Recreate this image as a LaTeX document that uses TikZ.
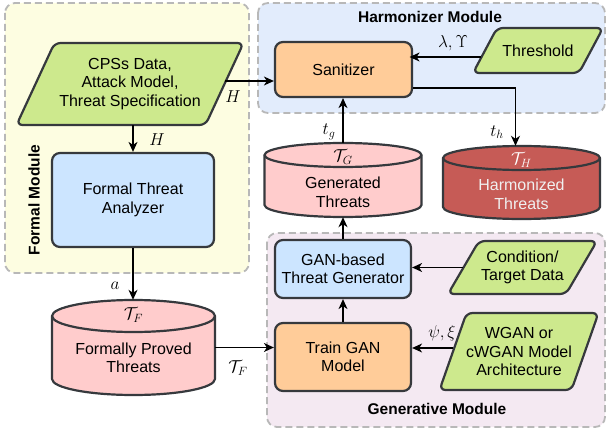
\documentclass[tikz,border=0pt]{standalone}
\usepackage{fontspec}
\setmainfont{Liberation Sans}
\usetikzlibrary{arrows.meta}
\definecolor{ncol}{HTML}{36393D}
\definecolor{modgray}{HTML}{B8B8B8}
\definecolor{cyell}{HTML}{FDFDE1}
\definecolor{cblue}{HTML}{E2ECFC}
\definecolor{cpink}{HTML}{F4E9F2}
\definecolor{cgreen}{HTML}{CDE98D}
\definecolor{nblue}{HTML}{CCE5FF}
\definecolor{norange}{HTML}{FFCC99}
\definecolor{npink}{HTML}{FFCCCC}
\definecolor{ndred}{HTML}{C65B56}
\newcommand{\nfont}{\fontsize{16}{18.5}\selectfont}
\newcommand{\tfont}{\fontsize{15.5}{18}\selectfont\bfseries}
\newcommand{\lfont}{\fontsize{18}{20}\selectfont}
% parallelogram: name, cx, cy, w, h, slant, text
\newcommand{\mypara}[7]{%
  \draw[pshape] (#2-#4/2+#6/2,-#3+#5/2) -- (#2+#4/2+#6/2,-#3+#5/2) -- (#2+#4/2-#6/2,-#3-#5/2) -- (#2-#4/2-#6/2,-#3-#5/2) -- cycle;
  \node[ptext, minimum width=#4pt, minimum height=#5pt] (#1) at (#2,-#3) {#7};
}
% cylinder: name, cx, top, bottom, half width, ry, fill
\newcommand{\mydrum}[7]{%
  \draw[dshape, fill=#7] (#2-#5,-#3-#6) -- (#2-#5,-#4+#6) arc[start angle=180,end angle=360,x radius=#5pt,y radius=#6pt] -- (#2+#5,-#3-#6) arc[start angle=0,end angle=180,x radius=#5pt,y radius=#6pt] -- cycle;
  \draw[dshape] (#2-#5,-#3-#6) arc[start angle=180,end angle=360,x radius=#5pt,y radius=#6pt];
  \path (#2,{-(#3+#4)/2}) node[inner sep=0pt, minimum width={2*#5}, minimum height={#4-#3}] (#1) {};
}
\tikzset{
  box/.style={draw=ncol, line width=2.2pt, rounded corners=8pt, align=center, font=\nfont, inner sep=2pt},
  pshape/.style={draw=ncol, line width=2.2pt, fill=cgreen, rounded corners=6pt},
  ptext/.style={align=center, font=\nfont, inner sep=0pt},
  dshape/.style={draw=ncol, line width=2.2pt},
  arr/.style={-{Stealth[length=10pt,width=9pt,inset=3pt]}, line width=1.3pt, black},
  module/.style={draw=modgray, dash pattern=on 7pt off 4pt, line width=1.8pt, rounded corners=10pt},
  lbl/.style={font=\lfont, inner sep=0pt},
  mtitle/.style={font=\tfont, inner sep=0pt}
}
\begin{document}
\begin{tikzpicture}[x=1pt,y=1pt]
\useasboundingbox (0,0) rectangle (607,-430);
% modules
\draw[module, fill=cyell] (5,-3) rectangle (249,-273);
\draw[module, fill=cblue] (258,-3) rectangle (605,-113);
\draw[module, fill=cpink] (267,-233) rectangle (605,-427);
\node[mtitle] (htitle) at (430,-17) {Harmonizer Module};
\node[mtitle] (gtitle) at (437,-409) {Generative Module};
\node[mtitle, rotate=90] (ftitle) at (34,-200) {Formal Module};
% parallelograms
\mypara{cps}{130}{84}{189}{82}{38}{CPSs Data,\\Attack Model,\\Threat Specification}
\mypara{thr}{538}{50.5}{106}{45}{24}{Threshold}
\mypara{cond}{522.5}{267.5}{118}{53}{31}{Condition/\\Target Data}
\mypara{wgan}{519}{351.5}{132}{77}{27}{WGAN or\\cWGAN Model\\Architecture}
% boxes
\node[box, fill=nblue, minimum width=162pt, minimum height=94pt] (fta) at (133,-200) {Formal Threat\\Analyzer};
\node[box, fill=norange, minimum width=137pt, minimum height=55pt] (san) at (343.5,-69.5) {Sanitizer};
\node[box, fill=nblue, minimum width=136pt, minimum height=58pt] (gen) at (343,-269) {GAN-based\\Threat Generator};
\node[box, fill=norange, minimum width=136pt, minimum height=68pt] (train) at (343,-357) {Train GAN\\Model};
% cylinders
\mydrum{gthr}{343}{143}{217}{78.5}{12}{npink}
\node[ptext, font=\lfont] (gthrT) at (343,-157) {$\mathcal{T}_G$};
\node[ptext] (gthrL) at (343,-192.5) {Generated\\Threats};
\mydrum{hthr}{521.5}{146}{219}{78.5}{12}{ndred}
\node[ptext, font=\lfont, text=white] (hthrT) at (521.5,-160) {$\mathcal{T}_H$};
\node[ptext, text=white!94!black] (hthrL) at (521.5,-194.5) {Harmonized\\Threats};
\mydrum{fp}{133.5}{300}{395}{81.5}{16}{npink}
\node[ptext, font=\lfont] (fpT) at (133.5,-315) {$\mathcal{T}_F$};
\node[ptext] (fpL) at (133.5,-358) {Formally Proved\\Threats};
% connectors
\draw[arr] (fta.north |- cps.south) -- (fta.north);
\node[lbl] (lH1) at (157,-140) {$H$};
\draw[arr] ([yshift=3pt]cps.east) -- ([yshift=3pt]cps.east -| san.west);
\node[lbl] (lH2) at (233,-97) {$H$};
\draw[arr] ([xshift=-3.5pt,yshift=-6.5pt]thr.west) -- ([xshift=-3.5pt,yshift=-6.5pt]thr.west -| san.east);
\node[lbl] (llam) at (453,-43) {$\lambda,\Upsilon$};
\draw[arr] ([yshift=-18.5pt]san.east) -| ([xshift=-6pt]hthr.north);
\node[lbl] (lth) at (497,-132) {$t_h$};
\draw[arr] (gthr.north) -- (gthr.north |- san.south);
\node[lbl] (ltg) at (329,-132) {$t_g$};
\draw[arr] (gen.north) -- (gen.north |- gthr.south);
\draw[arr] (train.north) -- (gen.south);
\draw[arr] (cond.west) -- (cond.west -| gen.east);
\draw[arr] ([yshift=3.5pt]wgan.west) -- ([yshift=3.5pt]wgan.west -| train.east);
\node[lbl] (lpsi) at (442,-333) {$\psi,\xi$};
\draw[arr] (fta.south) -- (fta.south |- fp.north);
\node[lbl] (la) at (115,-286) {$a$};
\draw[arr] (fp.east) -- (fp.east -| train.west);
\node[lbl] (lTF) at (238,-368) {$\mathcal{T}_F$};
\end{tikzpicture}
\end{document}
